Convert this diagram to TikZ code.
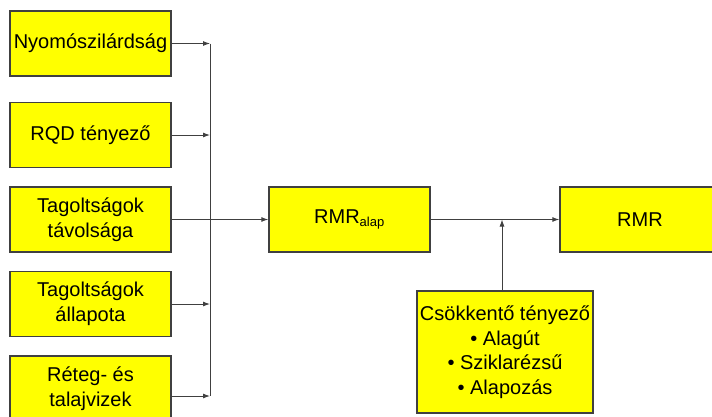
\documentclass[tikz,border=0pt]{standalone}
\usepackage{fontspec}
\setmainfont{Liberation Sans}
\usepackage{tikz}
\usetikzlibrary{arrows.meta, calc}
\definecolor{boxyellow}{HTML}{FFFF00}
\definecolor{edgegray}{HTML}{404040}
\tikzset{
  factorbox/.style={draw=edgegray, line width=1.4pt, fill=boxyellow, minimum width=161pt, minimum height=65pt, align=center, font=\fontsize{20}{25}\selectfont, inner sep=0pt},
  conn/.style={draw=edgegray, line width=0.9pt, -{Latex[length=7pt, width=5pt]}},
  plain/.style={draw=edgegray, line width=0.9pt}
}

\begin{document}
\begin{tikzpicture}[x=1pt, y=-1pt]
\useasboundingbox (0,0) rectangle (712,416);
\clip (0,0) rectangle (712,416);
\node[factorbox] (nyomo) at (90.5,43.5) {Nyomószilárdság}; %input 1
\node[factorbox] (rqd) at (90.5,135) {RQD tényező}; %input 2
\node[factorbox] (tavol) at (90.5,219.5) {Tagoltságok\\távolsága}; %input 3
\node[factorbox] (allap) at (90.5,304) {Tagoltságok\\állapota}; %input 4
\node[factorbox] (reteg) at (90.5,388.5) {Réteg- és\\talajvizek}; %input 5
\node[factorbox] (alap) at (349.5,219.5) {RMR\textsubscript{\fontsize{13}{13}\selectfont alap}};
\node[factorbox, minimum width=160pt] (rmr) at (640,219.5) {RMR};
\node[factorbox, minimum width=176pt, minimum height=122pt, font=\fontsize{20}{24.5}\selectfont] (csokk) at (505,352) {Csökkentő tényező\\• Alagút\\• Sziklarézsű\\• Alapozás};
\coordinate (bus) at (210,0); %collector line
\coordinate (jun) at (502,219.5); %junction
\coordinate (rend) at ([yshift=-7.5pt]reteg.east);
\draw[conn] (nyomo.east) -- (nyomo.east -| bus);
\draw[conn] (rqd.east) -- (rqd.east -| bus);
\draw[conn] (allap.east) -- (allap.east -| bus);
\draw[conn] (rend) -- (rend -| bus);
\draw[plain] (nyomo.east -| bus) -- (rend -| bus);
\draw[conn] (tavol.east) -- (alap.west);
\draw[conn] (alap.east) -- (rmr.west);
\draw[conn] (csokk.north -| jun) -- (jun);
\end{tikzpicture}
\end{document}
